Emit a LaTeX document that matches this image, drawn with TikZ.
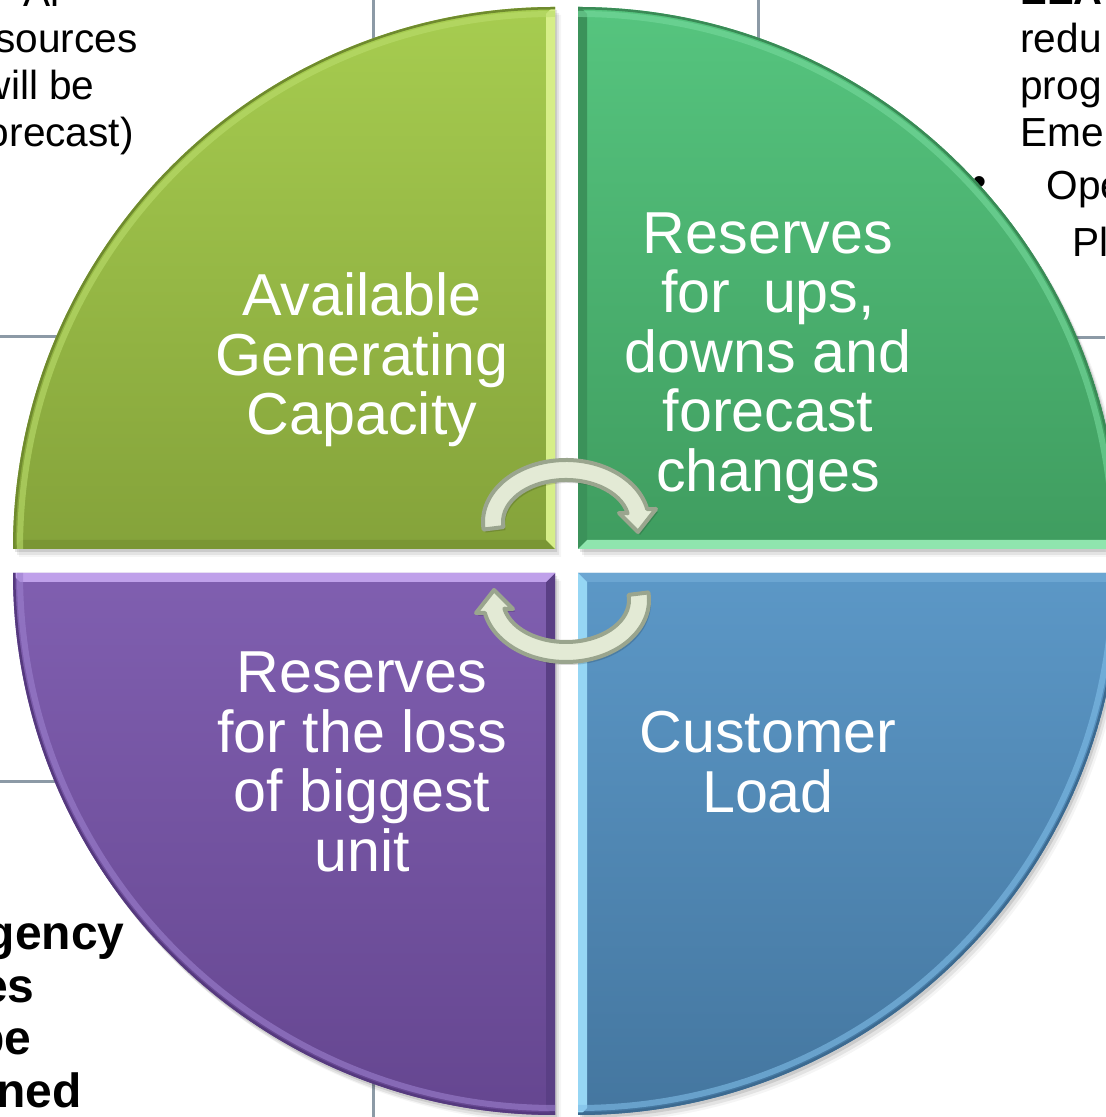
\documentclass[tikz,border=0pt]{standalone}
\usepackage{fontspec}
\setmainfont{Liberation Sans}
\definecolor{gridc}{HTML}{8C9AA6}
\definecolor{tlTop}{HTML}{A7CD50}
\definecolor{tlBot}{HTML}{84A23A}
\definecolor{tlBright}{HTML}{D6EE88}
\definecolor{tlDark}{HTML}{7A9634}
\definecolor{tlHl}{HTML}{BADD6C}
\definecolor{tlLine}{HTML}{6F8A2E}
\definecolor{trTop}{HTML}{56C57F}
\definecolor{trBot}{HTML}{3F9C5F}
\definecolor{trBright}{HTML}{8FE5AE}
\definecolor{trDark}{HTML}{3B925A}
\definecolor{trHl}{HTML}{76D99C}
\definecolor{trLine}{HTML}{3A8A56}
\definecolor{blTop}{HTML}{805FB0}
\definecolor{blBot}{HTML}{654690}
\definecolor{blBright}{HTML}{BFA0EA}
\definecolor{blDark}{HTML}{5A3F85}
\definecolor{blHl}{HTML}{9C80CE}
\definecolor{blLine}{HTML}{55397E}
\definecolor{brTop}{HTML}{5C98C7}
\definecolor{brBot}{HTML}{44769F}
\definecolor{brBright}{HTML}{96D6F4}
\definecolor{brDark}{HTML}{6CA6D2}
\definecolor{brHl}{HTML}{80BEE8}
\definecolor{brLine}{HTML}{3C6A90}
\definecolor{arrFill}{HTML}{E3EAD5}
\definecolor{arrEdge}{HTML}{9AA58E}
\begin{document}
\begin{tikzpicture}[x=0.5pt,y=0.5pt,
  lbl/.style={text=white,font=\fontsize{29.6}{29.8}\selectfont,align=center,inner sep=0pt},
  side/.style={text=black,font=\fontsize{20.3}{23}\selectfont,inner sep=0pt},
  sideb/.style={text=black,font=\bfseries\fontsize{24}{26}\selectfont,inner sep=0pt},
  gridline/.style={draw=gridc,line width=1.5},
  hl/.style={line width=3,opacity=0.6},
  rim/.style={line width=1.5},
  arrowsty/.style={fill=arrFill,draw=arrEdge,line width=2,line join=round}
]
\useasboundingbox (0,0) rectangle (1105,1117);
\fill[white] (0,0) rectangle (1105,1117);

% background table lines
\draw[gridline] (373,1117) -- (373,1060);
\draw[gridline] (758,1117) -- (758,1060);
\draw[gridline] (0,780) -- (80,780);
\draw[gridline] (1050,779) -- (1105,779);
\draw[gridline] (0,335) -- (80,335);
\draw[gridline] (373,0) -- (373,60);

% background texts
\node[side,anchor=base east] (tla) at (60,1110) {Al};
\node[side,anchor=base east] (tlb) at (138,1064) {sources};
\node[side,anchor=base east] (tlc) at (95,1017) {will be};
\node[side,anchor=base east] (tld) at (134,970) {forecast)};
\node[side,anchor=base west,font=\bfseries\fontsize{20}{23}\selectfont] (tra) at (1020,1112) {EEA};
\node[side,anchor=base west] (trb) at (1020,1064) {redu};
\node[side,anchor=base west] (trc) at (1020,1017) {prog};
\node[side,anchor=base west] (trd) at (1020,970) {Eme};
\node[side,anchor=center] (tre) at (980,931) {•};
\node[side,anchor=base west] (trf) at (1046,917) {Ope};
\node[side,anchor=base west] (trg) at (1072,860) {Pl};
\node[sideb,anchor=base east] (bla) at (125,167) {gency};
\node[sideb,anchor=base east] (blb) at (35,114) {es};
\node[sideb,anchor=base east] (blc) at (32,62) {be};
\node[sideb,anchor=base east] (bld) at (82,10) {ned};

% soft shadows
\foreach \dx/\dy/\op in {2/-3/0.10,4/-6/0.07,6/-8/0.04}{
  \begin{scope}[shift={(\dx,\dy)}]
    \fill[black,opacity=\op] (555,568) -- (13,568) arc[start angle=180,end angle=90,radius=542] -- cycle;
    \fill[black,opacity=\op] (578,568) -- (578,1110) arc[start angle=90,end angle=0,radius=542] -- cycle;
    \fill[black,opacity=\op] (555,544) -- (13,544) arc[start angle=180,end angle=270,radius=542] -- cycle;
    \fill[black,opacity=\op] (578,544) -- (1120,544) arc[start angle=0,end angle=-90,radius=542] -- cycle;
  \end{scope}
}

% top-left quadrant (green)
\begin{scope}
  \clip (555,568) -- (13,568) arc[start angle=180,end angle=90,radius=542] -- cycle;
  \shade[top color=tlTop,bottom color=tlBot] (0,560) rectangle (560,1117);
  \fill[tlDark] (13,568) -- (555,568) -- (546,577) -- (22,577) -- cycle;
  \fill[tlBright] (555,568) -- (555,1112) -- (546,1103) -- (546,577) -- cycle;
  \draw[hl,tlHl] (555,568) ++(180:535) arc[start angle=180,end angle=90,radius=535];
  \draw[rim,tlLine] (555,568) ++(180:541) arc[start angle=180,end angle=90,radius=541];
\end{scope}

% top-right quadrant (teal green)
\begin{scope}
  \clip (578,568) -- (578,1110) arc[start angle=90,end angle=0,radius=542] -- cycle;
  \shade[top color=trTop,bottom color=trBot] (570,560) rectangle (1125,1117);
  \fill[trDark] (578,568) -- (578,1112) -- (587,1103) -- (587,577) -- cycle;
  \fill[trBright] (578,568) -- (1122,568) -- (1113,577) -- (587,577) -- cycle;
  \draw[hl,trHl] (578,568) ++(90:535) arc[start angle=90,end angle=0,radius=535];
  \draw[rim,trLine] (578,568) ++(90:541) arc[start angle=90,end angle=0,radius=541];
\end{scope}

% bottom-left quadrant (purple)
\begin{scope}
  \clip (555,544) -- (13,544) arc[start angle=180,end angle=270,radius=542] -- cycle;
  \shade[top color=blTop,bottom color=blBot] (0,0) rectangle (560,550);
  \fill[blDark] (555,544) -- (555,0) -- (546,9) -- (546,535) -- cycle;
  \fill[blBright] (555,544) -- (11,544) -- (20,535) -- (546,535) -- cycle;
  \draw[hl,blHl] (555,544) ++(180:535) arc[start angle=180,end angle=270,radius=535];
  \draw[rim,blLine] (555,544) ++(180:541) arc[start angle=180,end angle=270,radius=541];
\end{scope}

% bottom-right quadrant (blue)
\begin{scope}
  \clip (578,544) -- (1120,544) arc[start angle=0,end angle=-90,radius=542] -- cycle;
  \shade[top color=brTop,bottom color=brBot] (570,0) rectangle (1125,550);
  \fill[brDark] (578,544) -- (1122,544) -- (1113,535) -- (587,535) -- cycle;
  \fill[brBright] (578,544) -- (578,0) -- (587,9) -- (587,535) -- cycle;
  \draw[hl,brHl] (578,544) ++(0:535) arc[start angle=0,end angle=-90,radius=535];
  \draw[rim,brLine] (578,544) ++(0:541) arc[start angle=0,end angle=-90,radius=541];
\end{scope}

% cycle arrows
\begin{scope}[shift={(566,595)}]
  \fill[black,opacity=0.15,shift={(2,-3)}] (187:83 and 62) arc[start angle=187,end angle=12,x radius=83,y radius=62] -- (90,13) -- (72,-10) -- (53,9) -- (12:63 and 42) arc[start angle=12,end angle=187,x radius=63,y radius=42] -- cycle;
  \path[arrowsty] (187:83 and 62) arc[start angle=187,end angle=12,x radius=83,y radius=62] -- (90,13) -- (72,-10) -- (53,9) -- (12:63 and 42) arc[start angle=12,end angle=187,x radius=63,y radius=42] -- cycle;
\end{scope}
\begin{scope}[shift={(566,517)},rotate=180]
  \fill[black,opacity=0.15,shift={(-2,3)}] (187:83 and 62) arc[start angle=187,end angle=12,x radius=83,y radius=62] -- (90,13) -- (72,-10) -- (53,9) -- (12:63 and 42) arc[start angle=12,end angle=187,x radius=63,y radius=42] -- cycle;
  \path[arrowsty] (187:83 and 62) arc[start angle=187,end angle=12,x radius=83,y radius=62] -- (90,13) -- (72,-10) -- (53,9) -- (12:63 and 42) arc[start angle=12,end angle=187,x radius=63,y radius=42] -- cycle;
\end{scope}

% labels
\node[lbl] (tl) at (362,757) {Available\\Generating\\Capacity};
\node[lbl] (tr) at (768,759) {Reserves\\for\ \ ups,\\downs and\\forecast\\changes};
\node[lbl] (bl) at (362,355) {Reserves\\for the loss\\of biggest\\unit};
\node[lbl] (br) at (768,355) {Customer\\Load};
\end{tikzpicture}
\end{document}
